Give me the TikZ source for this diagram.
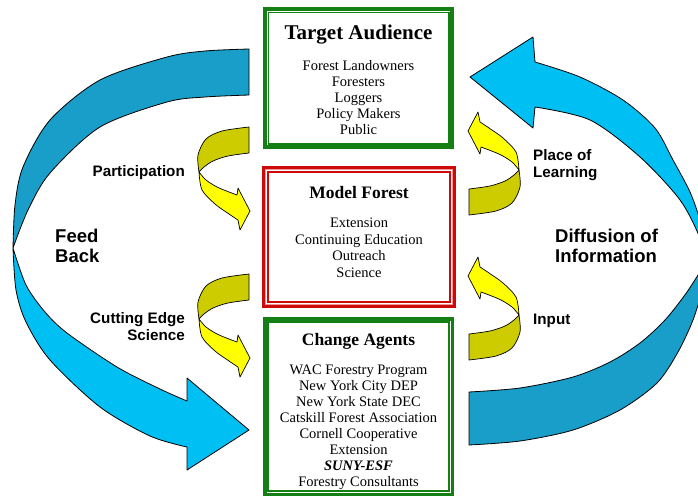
\documentclass[tikz,border=0pt]{standalone}
\usepackage{fontspec}
\setmainfont{Liberation Serif}
\newfontfamily\labelfont{Liberation Sans}

\definecolor{bandlight}{RGB}{0,191,243}
\definecolor{banddark}{RGB}{24,158,200}
\definecolor{curllight}{RGB}{255,255,0}
\definecolor{curldark}{RGB}{204,204,0}
\definecolor{boxgreen}{RGB}{20,128,20}
\definecolor{boxred}{RGB}{205,10,10}
\definecolor{boxpink}{RGB}{240,150,150}

\tikzset{
  band/.style={draw=black, line width=0.8pt, line join=round},
  curl/.style={draw=black, line width=0.7pt, line join=round},
  lbl/.style={inner sep=0pt, font={\labelfont\fontsize{15.2}{17.5}\selectfont\bfseries}},
  biglbl/.style={inner sep=0pt, font={\labelfont\fontsize{18.5}{20}\selectfont\bfseries}},
  boxtitle/.style={inner sep=0pt, font={\fontsize{17.5}{20}\selectfont\bfseries}},
  boxbody/.style={inner sep=0pt, align=center, font={\fontsize{14.5}{16}\selectfont}},
  greenbox/.style={draw=boxgreen, line width=3.5pt, inner sep=0pt},
  redbox/.style={draw=boxred, line width=3pt, inner sep=0pt},
  % twisted ribbon arrow: flat end at the origin, head pointing right below it
  curlarrow/.pic={
    \filldraw[curl, fill=curllight]
      plot[smooth] coordinates {(-50,45) (-47,63) (-34,77) (-20,87) (-11,93)}
      -- (-9,103) -- (1,84) -- (-11,61)
      -- plot[smooth] coordinates {(-12,68) (-20,65) (-32,60) (-43,53) (-50,45)} -- cycle;
    \filldraw[curl, fill=curldark]
      plot[smooth] coordinates {(0,0) (-27,4) (-43,12) (-51,28) (-50,45)}
      -- plot[smooth] coordinates {(-50,45) (-45,40) (-36,34) (-21,29) (0,26)} -- cycle;
  }
}

\begin{document}
\begin{tikzpicture}[x=1pt,y=-1pt]
\fill[white] (0,0) rectangle (698,498);
\useasboundingbox (0,0) rectangle (698,498);

\begin{scope}
\clip (0,0) rectangle (698,498);
% feedback ribbon on the left
\filldraw[band, fill=banddark]
  plot[smooth] coordinates {(249,49) (205,51) (167,57) (100,80) (50,120) (23,167) (15,205) (13,248)}
  -- plot[smooth] coordinates {(13,248) (28,210) (50,173) (100,127) (167,102) (205,97) (249,95)} -- cycle;
\filldraw[band, fill=bandlight]
  plot[smooth] coordinates {(13,248) (16,290) (26,322) (50,360) (100,407) (150,436) (187,447)}
  -- (187,470) -- (249,430) -- (187,378)
  -- plot[smooth] coordinates {(187,401) (160,389) (117,367) (67,333) (45,312) (26,285) (13,248)} -- cycle;
% diffusion ribbon on the right
\filldraw[band, fill=bandlight]
  plot[smooth] coordinates {(706,262) (705,242) (700,220) (690,192) (673,160) (655,128) (623,100) (580,77) (535,62)}
  -- (533,37) -- (470,77) -- (533,128)
  -- plot[smooth] coordinates {(535,107) (590,120) (640,157) (680,200) (700,238) (706,262)} -- cycle;
\filldraw[band, fill=banddark]
  plot[smooth] coordinates {(706,262) (702,290) (693,320) (678,352) (657,383) (620,410) (573,430) (520,441) (469,445)}
  -- plot[smooth] coordinates {(469,392) (520,388) (573,377) (610,362) (640,343) (665,320) (687,292) (706,262)} -- cycle;
\end{scope}

% small twisted arrows
\pic at (249,127) {curlarrow};
\pic at (249,274) {curlarrow};
\pic[rotate=180] at (469,215) {curlarrow};
\pic[rotate=180] at (469,360) {curlarrow};

% boxes
\node[greenbox, minimum width=187pt, minimum height=138pt] (ta) at (358.5,78) {};
\draw[boxgreen, line width=1.5pt] ([shift={(5,5)}]ta.north west) rectangle ([shift={(-5,-5)}]ta.south east);

\node[redbox, minimum width=191pt, minimum height=139pt] (mf) at (359,237) {};
\draw[boxpink, line width=1pt] ([shift={(3.8,3.8)}]mf.north west) rectangle ([shift={(-3.8,-3.8)}]mf.south east);
\draw[boxred, line width=1.3pt] ([shift={(6,6)}]mf.north west) rectangle ([shift={(-6,-6)}]mf.south east);

\node[greenbox, minimum width=187.5pt, minimum height=175.5pt] (ca) at (358.5,406.5) {};
\draw[boxgreen, line width=1.5pt] ([shift={(5,5)}]ca.north west) rectangle ([shift={(-5,-5)}]ca.south east);

% box texts
\node[inner sep=0pt, anchor=base, font={\fontsize{21}{24}\selectfont\bfseries}] (tatitle) at (358.5,39.5) {Target Audience};
\node[boxbody] (tabody) at (358.5,98) {Forest Landowners\\Foresters\\Loggers\\Policy Makers\\Public};

\node[boxtitle, anchor=base] (mftitle) at (359,198) {Model Forest};
\node[boxbody, font={\fontsize{14.5}{16.5}\selectfont}] (mfbody) at (359,248) {Extension\\Continuing Education\\Outreach\\Science};

\node[boxtitle, anchor=base] (catitle) at (358.5,345.5) {Change Agents};
\node[boxbody, font={\fontsize{14.5}{16}\selectfont}] (cabody) at (358.5,427.5) {WAC Forestry Program\\New York City DEP\\New York State DEC\\Catskill Forest Association\\Cornell Cooperative\\Extension\\\textbf{\textit{SUNY-ESF}}\\Forestry Consultants};

% side labels
\node[lbl, anchor=base east] (participation) at (185,176) {Participation};
\node[lbl, anchor=east, align=right] (cutting) at (185,326.5) {Cutting Edge\\Science};
\node[lbl, anchor=west, align=left] (place) at (533,165) {Place of\\Learning};
\node[lbl, anchor=base west] (input) at (533,324) {Input};
\node[biglbl, anchor=west, align=left] (feedback) at (55,246) {Feed\\Back};
\node[biglbl, anchor=west, align=left] (diffusion) at (555,246) {Diffusion of\\Information};
\end{tikzpicture}
\end{document}
